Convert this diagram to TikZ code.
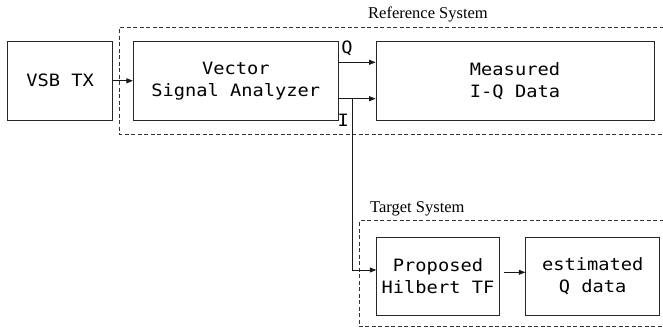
\documentclass[tikz,border=0pt]{standalone}
\usepackage{fontspec}
\usetikzlibrary{arrows.meta}
\newfontfamily\boxfont[FakeStretch=1.1]{DejaVu Sans Mono}
\newfontfamily\labelfont{Liberation Serif}
\begin{document}
\begin{tikzpicture}[x=1pt,y=-1pt,
  blk/.style={draw=black!85,line width=0.8pt,inner sep=0pt,align=center,
    minimum height=78.3pt,font=\boxfont\fontsize{17}{22}\selectfont},
  group/.style={draw=black!80,line width=0.8pt,dash pattern=on 4pt off 2.5pt},
  arr/.style={draw=black!90,line width=0.8pt,-{Triangle[length=6.5pt,width=5pt]}},
  grouplabel/.style={font=\labelfont\fontsize{16.5}{18}\selectfont,inner sep=0pt,anchor=base west},
  sig/.style={font=\boxfont\fontsize{17}{20}\selectfont,inner sep=0pt}]
\clip (0,0) rectangle (663,329);

% group frames
\draw[group] (670,27.3) -- (119.3,27.3) -- (119.3,134.3) -- (670,134.3);
\draw[group] (670,220.7) -- (359.3,220.7) -- (359.3,326.7) -- (670,326.7);
\node[grouplabel] (reflabel) at (368,18.5) {Reference System};
\node[grouplabel] (tgtlabel) at (370,212.5) {Target System};

% blocks
\node[blk,minimum width=105pt]   (vsb)  at (60.2,80.8)  {VSB TX};
\node[blk,minimum width=205pt]   (vsa)  at (235.8,80.8) {Vector\\Signal Analyzer};
\node[blk,minimum width=278pt]   (meas) at (515,80.8)   {Measured\\I-Q Data};
\node[blk,minimum width=122.6pt] (prop) at (438,276.5)  {Proposed\\Hilbert TF};
\node[blk,minimum width=134pt]   (est)  at (592.7,276.5){estimated\\Q data};

% signal labels
\node[sig] (qlab) at (347,48.5) {Q};
\node[sig] (ilab) at (343.3,120.5) {I};

% connectors
\draw[arr] (vsb) -- (vsa);
\draw[arr] ([yshift=18.5pt]vsa.east) -- ([yshift=18.5pt]meas.west);
\draw[arr] ([yshift=-17.9pt]vsa.east) -- ([yshift=-17.9pt]meas.west);
\coordinate (tap) at (352.7,98.7);
\draw[arr] (tap) |- ([yshift=6.5pt]prop.west);
\draw[arr,shorten <=4.5pt] ([yshift=4.2pt]prop.east) -- ([yshift=4.2pt]est.west);
\end{tikzpicture}
\end{document}
